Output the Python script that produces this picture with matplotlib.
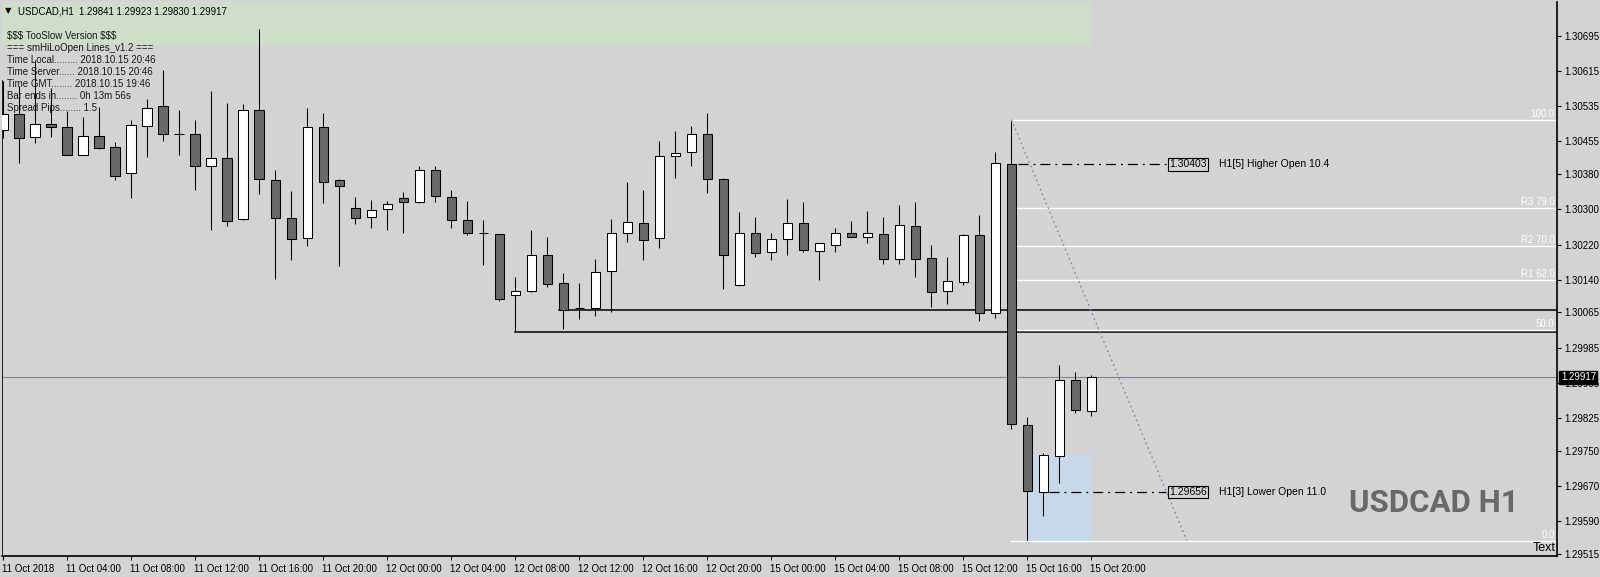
import matplotlib
matplotlib.use('Agg')
import matplotlib.pyplot as plt
import matplotlib.transforms as mtransforms
from matplotlib.patches import Rectangle
import numpy as np

plt.rcParams['font.family'] = ['Liberation Sans', 'DejaVu Sans']
plt.rcParams['text.parse_math'] = False

# USDCAD H1 bars, 11 Oct 00:00 .. 15 Oct 20:00
opens = [1.30481, 1.30517, 1.30465, 1.30494, 1.30487, 1.30425, 1.30467, 1.30442, 1.30382, 1.30491,
         1.30535, 1.30471, 1.30471, 1.30398, 1.30417, 1.30278, 1.30526, 1.30367, 1.30280, 1.30234,
         1.30487, 1.30367, 1.30303, 1.30282, 1.30300, 1.30325, 1.30318, 1.30389, 1.30328, 1.30275,
         1.30246, 1.30243, 1.30104, 1.30115, 1.30195, 1.30132, 1.30075, 1.30075, 1.30159, 1.30246,
         1.30268, 1.30234, 1.30421, 1.30430, 1.30471, 1.30369, 1.30127, 1.30246, 1.30204, 1.30232,
         1.30268, 1.30206, 1.30220, 1.30246, 1.30238, 1.30243, 1.30188, 1.30262, 1.30189, 1.30113,
         1.30135, 1.30241, 1.30063, 1.30403, 1.29808, 1.29656, 1.29737, 1.29910, 1.29841]
highs = [1.30593, 1.30582, 1.30641, 1.30576, 1.30525, 1.30511, 1.30533, 1.30453, 1.30504, 1.30552,
         1.30618, 1.30527, 1.30504, 1.30569, 1.30543, 1.30540, 1.30711, 1.30389, 1.30341, 1.30531,
         1.30519, 1.30369, 1.30328, 1.30321, 1.30319, 1.30340, 1.30399, 1.30399, 1.30344, 1.30319,
         1.30275, 1.30243, 1.30145, 1.30253, 1.30237, 1.30154, 1.30132, 1.30186, 1.30278, 1.30362,
         1.30344, 1.30455, 1.30478, 1.30490, 1.30519, 1.30371, 1.30294, 1.30283, 1.30246, 1.30324,
         1.30317, 1.30223, 1.30258, 1.30274, 1.30296, 1.30283, 1.30310, 1.30317, 1.30218, 1.30192,
         1.30243, 1.30287, 1.30431, 1.30505, 1.29827, 1.29744, 1.29945, 1.29929, 1.29923]
lows = [1.30463, 1.30407, 1.30451, 1.30466, 1.30423, 1.30424, 1.30437, 1.30366, 1.30327, 1.30420,
        1.30455, 1.30423, 1.30345, 1.30252, 1.30263, 1.30277, 1.30336, 1.30142, 1.30185, 1.30217,
        1.30315, 1.30172, 1.30267, 1.30258, 1.30252, 1.30247, 1.30315, 1.30318, 1.30258, 1.30242,
        1.30174, 1.30092, 1.30020, 1.30112, 1.30124, 1.30028, 1.30051, 1.30058, 1.30065, 1.30226,
        1.30185, 1.30213, 1.30372, 1.30398, 1.30338, 1.30119, 1.30126, 1.30192, 1.30185, 1.30195,
        1.30204, 1.30138, 1.30204, 1.30236, 1.30224, 1.30176, 1.30176, 1.30147, 1.30078, 1.30085,
        1.30128, 1.30046, 1.30053, 1.29800, 1.29545, 1.29602, 1.29677, 1.29836, 1.29830]
closes = [1.30517, 1.30462, 1.30494, 1.30487, 1.30425, 1.30467, 1.30439, 1.30376, 1.30492, 1.30531,
          1.30471, 1.30471, 1.30398, 1.30417, 1.30273, 1.30526, 1.30369, 1.30280, 1.30232, 1.30487,
          1.30362, 1.30353, 1.30280, 1.30298, 1.30312, 1.30316, 1.30389, 1.30330, 1.30275, 1.30246,
          1.30246, 1.30095, 1.30113, 1.30195, 1.30129, 1.30070, 1.30075, 1.30157, 1.30246, 1.30271,
          1.30230, 1.30421, 1.30428, 1.30471, 1.30369, 1.30195, 1.30246, 1.30201, 1.30232, 1.30268,
          1.30208, 1.30223, 1.30246, 1.30238, 1.30246, 1.30188, 1.30264, 1.30188, 1.30112, 1.30136,
          1.30241, 1.30063, 1.30405, 1.29811, 1.29657, 1.29739, 1.29910, 1.29842, 1.29917]

time_labels = ['11 Oct 2018', '11 Oct 04:00', '11 Oct 08:00', '11 Oct 12:00', '11 Oct 16:00',
               '11 Oct 20:00', '12 Oct 00:00', '12 Oct 04:00', '12 Oct 08:00', '12 Oct 12:00',
               '12 Oct 16:00', '12 Oct 20:00', '15 Oct 00:00', '15 Oct 04:00', '15 Oct 08:00',
               '15 Oct 12:00', '15 Oct 16:00', '15 Oct 20:00']
price_ticks = [1.30695, 1.30615, 1.30535, 1.30455, 1.30380, 1.30300, 1.30220, 1.30140,
               1.30065, 1.29985, 1.29905, 1.29825, 1.29750, 1.29670, 1.29590, 1.29515]

# fibo levels (high of bar 63 -> low of bar 64)
fib_hi, fib_lo = 1.30505, 1.29545
fib_levels = [1.0, 0.79, 0.70, 0.62, 0.50, 0.0]
fib_names = ['100.0', 'R3 79.0', 'R2 70.0', 'R1 62.0', '50.0', '0.0']

bid = 1.29917
hi_open, lo_open = 1.30403, 1.29656
hilo_upper, hilo_lower = 1.30070, 1.30020

info_lines = ['$$$ TooSlow Version $$$',
              '=== smHiLoOpen Lines_v1.2 ===',
              'Time Local......... 2018.10.15 20:46',
              'Time Server...... 2018.10.15 20:46',
              'Time GMT........ 2018.10.15 19:46',
              'Bar ends in........ 0h 13m 56s',
              'Spread Pips........ 1.5']

BG = '#d3d3d3'
W, H = 1600, 577
fig = plt.figure(figsize=(W / 100, H / 100), dpi=100)
fig.patch.set_facecolor(BG)
ax = fig.add_axes([2 / W, 21 / H, 1555 / W, 554 / H])
ax.set_facecolor(BG)
ax.set_xlim(-0.08, 97.1)
ax.set_ylim(1.295097, 1.30773)

n = len(opens)
x = np.arange(n)
o = np.array(opens); c = np.array(closes)

# shaded boxes
ax.add_patch(Rectangle((-1, 1.30675), 69, 0.002, facecolor='#cfdec9', edgecolor='none', zorder=0))
ax.add_patch(Rectangle((64, fib_lo), 4, 1.29739 - fib_lo, facecolor='#c6d8ea', edgecolor='none', zorder=0))

# current bid line
ax.axhline(bid, color='#778899', lw=0.8, zorder=1)

# hi/lo lines
ax.plot([34.7, 97.1], [hilo_upper, hilo_upper], color='black', lw=1.1, zorder=1)
ax.plot([32, 97.1], [hilo_lower, hilo_lower], color='black', lw=1.1, zorder=1)

# candles
lw = 0.75
ax.vlines(x, lows, highs, color='black', lw=lw, zorder=2)
body_col = ['white' if cc > oo else '#696969' for oo, cc in zip(o, c)]
ax.bar(x, np.abs(c - o), bottom=np.minimum(o, c), width=0.6, color=body_col,
       edgecolor='black', linewidth=lw, zorder=3)

# fibo
rng = fib_hi - fib_lo
for lev, name in zip(fib_levels, fib_names):
    p = fib_lo + lev * rng
    ax.plot([63, 97.1], [p, p], color='white', lw=1.0, zorder=2.5)
    ax.text(96.95, p + 0.00002, name, ha='right', va='bottom', fontsize=7, color='white', zorder=4)
ax.plot([63, 73.96], [fib_hi, fib_lo], color='#778899', lw=0.9, ls=(0, (1.5, 2.5)), zorder=4)

# higher / lower open lines
dd = (0, (8, 4, 1.5, 4))
ax.plot([63.4, 72.67], [hi_open, hi_open], color='black', lw=0.9, ls=dd, zorder=4)
ax.plot([65.35, 72.67], [lo_open, lo_open], color='black', lw=0.9, ls=dd, zorder=4)
for p, txt in [(hi_open, 'H1[5] Higher Open 10.4'), (lo_open, 'H1[3] Lower Open 11.0')]:
    ax.text(72.85, p, '%.5f' % p, ha='left', va='center', fontsize=7.5, color='black', zorder=5,
            bbox=dict(boxstyle='square,pad=0.12', facecolor=BG, edgecolor='black', lw=0.8))
    ax.text(76.0, p, txt, ha='left', va='center', fontsize=7.5, color='black', zorder=5)

# left border stub
ax.axvline(-0.05, ymin=0, ymax=(1.30593 - 1.295097) / (1.30773 - 1.295097), color='black', lw=1.2)

# axes styling
for s in ['top', 'left']:
    ax.spines[s].set_visible(False)
ax.spines['right'].set_linewidth(1.2)
ax.spines['bottom'].set_linewidth(1.2)
ax.yaxis.tick_right()
ax.set_yticks(price_ticks)
ax.set_yticklabels(['%.5f' % v for v in price_ticks])
ax.tick_params(axis='y', direction='out', length=3, width=0.8, pad=2, labelsize=7, colors='black')
ax.set_xticks(np.arange(0, 4 * len(time_labels), 4))
ax.set_xticklabels(time_labels, ha='left')
ax.tick_params(axis='x', direction='out', length=3, width=0.8, pad=3, labelsize=7, colors='black')
offset = mtransforms.ScaledTranslation(-1 / 100, 0, fig.dpi_scale_trans)
for lab in ax.get_xticklabels():
    lab.set_transform(lab.get_transform() + offset)

# current price marker on axis
bt = mtransforms.blended_transform_factory(ax.transAxes, ax.transData)
ax.text(1.0025, bid, '%.5f' % bid, transform=bt, ha='left', va='center', fontsize=7, color='white',
        zorder=6, clip_on=False,
        bbox=dict(boxstyle='square,pad=0.15', facecolor='black', edgecolor='black'))

ax.text(0.999, (556 - 548) / 554, 'Text', transform=ax.transAxes, ha='right', va='center',
        fontsize=9, color='black')

# overlay texts (pixel positions)
def px(xp, yp):
    return xp / W, 1 - yp / H

fig.text(*px(5, 11), '\u25bc', fontsize=6, va='center', ha='left', color='black',
         family=['DejaVu Sans'])
fig.text(*px(18, 11), 'USDCAD,H1  1.29841 1.29923 1.29830 1.29917', fontsize=6.9,
         va='center', ha='left', color='black')
for i, line in enumerate(info_lines):
    fig.text(*px(7, 35.7 + 12 * i), line, fontsize=7, va='center', ha='left', color='#1a1a1a')

fig.text(*px(1349, 503), 'USDCAD H1', fontsize=22.5, fontweight='bold', va='center', ha='left',
         color='#686868', family=['Roboto', 'Liberation Sans', 'DejaVu Sans'])

fig.savefig('out.png', dpi=100, facecolor=BG)
